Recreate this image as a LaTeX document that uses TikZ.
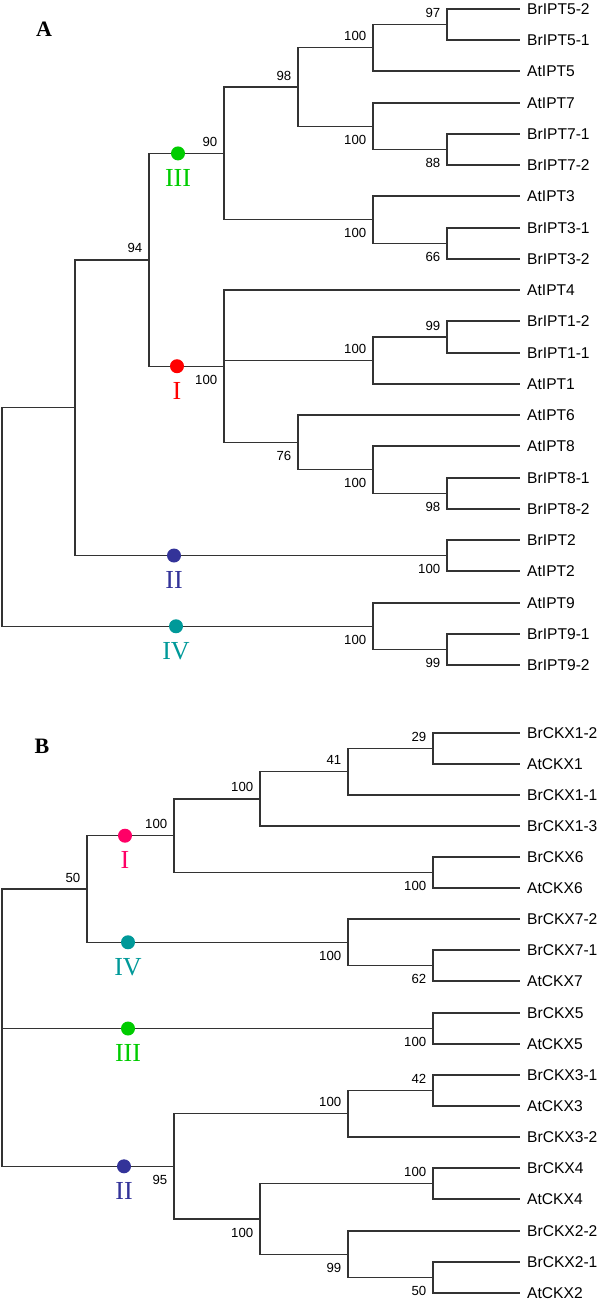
\documentclass[tikz,border=0pt]{standalone}
\usepackage{fontspec}
\setmainfont{Liberation Serif}
\setsansfont{Liberation Sans}
\usepackage{tikz}
\usetikzlibrary{positioning}
\definecolor{cIred}{HTML}{FF0000}
\definecolor{cIpink}{HTML}{FF0066}
\definecolor{cII}{HTML}{333399}
\definecolor{cIII}{HTML}{00CC00}
\definecolor{cIV}{HTML}{009999}

\begin{document}
\begin{tikzpicture}[
    x=0.5pt, y=-0.5pt,
    br/.style={draw=black!80, line width=0.7pt},
    leaf/.style={anchor=west, inner xsep=3.4pt, inner ysep=0pt,
                 font=\sffamily\fontsize{7.8}{9}\selectfont},
    bs/.style={inner sep=0pt, font=\sffamily\fontsize{6.6}{8}\selectfont},
    bsa/.style={bs, anchor=south east, xshift=-3.2pt, yshift=3.2pt},
    bsb/.style={bs, anchor=north east, xshift=-3.2pt, yshift=-4.25pt},
    dot/.style={circle, inner sep=0pt, minimum size=7pt},
    clab/.style={inner sep=0pt, font=\fontsize{13}{13}\selectfont},
    panel/.style={inner sep=0pt, font=\bfseries\fontsize{11}{11}\selectfont}
  ]
  \useasboundingbox (0,0) rectangle (600,1302);

  %% Panel A
  \node[panel] (pA) at (44,29) {A};

  \node[leaf] (a1)  at (520,9)   {BrIPT5-2};
  \node[leaf] (a2)  at (520,40)  {BrIPT5-1};
  \node[leaf] (a3)  at (520,71)  {AtIPT5};
  \node[leaf] (a4)  at (520,103) {AtIPT7};
  \node[leaf] (a5)  at (520,134) {BrIPT7-1};
  \node[leaf] (a6)  at (520,165) {BrIPT7-2};
  \node[leaf] (a7)  at (520,196) {AtIPT3};
  \node[leaf] (a8)  at (520,228) {BrIPT3-1};
  \node[leaf] (a9)  at (520,259) {BrIPT3-2};
  \node[leaf] (a10) at (520,290) {AtIPT4};
  \node[leaf] (a11) at (520,321) {BrIPT1-2};
  \node[leaf] (a12) at (520,353) {BrIPT1-1};
  \node[leaf] (a13) at (520,384) {AtIPT1};
  \node[leaf] (a14) at (520,415) {AtIPT6};
  \node[leaf] (a15) at (520,446) {AtIPT8};
  \node[leaf] (a16) at (520,478) {BrIPT8-1};
  \node[leaf] (a17) at (520,509) {BrIPT8-2};
  \node[leaf] (a18) at (520,540) {BrIPT2};
  \node[leaf] (a19) at (520,571) {AtIPT2};
  \node[leaf] (a20) at (520,603) {AtIPT9};
  \node[leaf] (a21) at (520,634) {BrIPT9-1};
  \node[leaf] (a22) at (520,665) {BrIPT9-2};

  \coordinate (n97)   at (447,24.5);
  \coordinate (n100a) at (373,47.75);
  \coordinate (n88)   at (447,149.5);
  \coordinate (n100b) at (373,126.25);
  \coordinate (n98)   at (298,87);
  \coordinate (n66)   at (447,243.5);
  \coordinate (n100c) at (373,219.75);
  \coordinate (n90)   at (224,153.4);
  \coordinate (n99)   at (447,337);
  \coordinate (n100d) at (373,360.5);
  \coordinate (n98b)  at (447,493.5);
  \coordinate (n100e) at (373,469.75);
  \coordinate (n76)   at (298,442.4);
  \coordinate (nI)    at (224,366.2);
  \coordinate (n94)   at (149,259.8);
  \coordinate (n100f) at (447,555.5);
  \coordinate (nA2)   at (75,407.6);
  \coordinate (n99b)  at (447,649.5);
  \coordinate (n100g) at (373,626.25);
  \coordinate (rootA) at (2,516.9);

  \draw[br] (rootA) |- (nA2)   (rootA) |- (n100g);
  \draw[br] (nA2) |- (n94)     (nA2) |- (n100f);
  \draw[br] (n94) |- (n90)     (n94) |- (nI);
  \draw[br] (n90) |- (n98)     (n90) |- (n100c);
  \draw[br] (n98) |- (n100a)   (n98) |- (n100b);
  \draw[br] (n100a) |- (n97)   (n100a) |- (a3.west);
  \draw[br] (n97) |- (a1.west) (n97) |- (a2.west);
  \draw[br] (n100b) |- (a4.west) (n100b) |- (n88);
  \draw[br] (n88) |- (a5.west) (n88) |- (a6.west);
  \draw[br] (n100c) |- (a7.west) (n100c) |- (n66);
  \draw[br] (n66) |- (a8.west) (n66) |- (a9.west);
  \draw[br] (nI) |- (a10.west) (nI) |- (n100d) (nI) |- (n76);
  \draw[br] (n100d) |- (n99)   (n100d) |- (a13.west);
  \draw[br] (n99) |- (a11.west) (n99) |- (a12.west);
  \draw[br] (n76) |- (a14.west) (n76) |- (n100e);
  \draw[br] (n100e) |- (a15.west) (n100e) |- (n98b);
  \draw[br] (n98b) |- (a16.west) (n98b) |- (a17.west);
  \draw[br] (n100f) |- (a18.west) (n100f) |- (a19.west);
  \draw[br] (n100g) |- (a20.west) (n100g) |- (n99b);
  \draw[br] (n99b) |- (a21.west) (n99b) |- (a22.west);

  \node[bsa] (s97)   at (n97)   {97};
  \node[bsa] (s100a) at (n100a) {100};
  \node[bsb] (s88)   at (n88)   {88};
  \node[bsb] (s100b) at (n100b) {100};
  \node[bsa] (s98)   at (n98)   {98};
  \node[bsb] (s66)   at (n66)   {66};
  \node[bsb] (s100c) at (n100c) {100};
  \node[bsa] (s90)   at (n90)   {90};
  \node[bsa] (s99)   at (n99)   {99};
  \node[bsa] (s100d) at (n100d) {100};
  \node[bsb] (s98b)  at (n98b)  {98};
  \node[bsb] (s100e) at (n100e) {100};
  \node[bsb] (s76)   at (n76)   {76};
  \node[bsb] (sI)    at (nI)    {100};
  \node[bsa] (s94)   at (n94)   {94};
  \node[bsb] (s100f) at (n100f) {100};
  \node[bsb] (s99b)  at (n99b)  {99};
  \node[bsb] (s100g) at (n100g) {100};

  \node[dot, fill=cIII]  (dAIII) at (178,153.4) {};
  \node[dot, fill=cIred] (dAI)   at (177,366.2) {};
  \node[dot, fill=cII]   (dAII)  at (174,555.5) {};
  \node[dot, fill=cIV]   (dAIV)  at (176,626.25) {};
  \node[clab, text=cIII,  below=4pt of dAIII] (lAIII) {III};
  \node[clab, text=cIred, below=4pt of dAI]   (lAI)   {I};
  \node[clab, text=cII,   below=4pt of dAII]  (lAII)  {II};
  \node[clab, text=cIV,   below=4pt of dAIV]  (lAIV)  {IV};

  %% Panel B
  \node[panel] (pB) at (42,746) {B};

  \node[leaf] (b1)  at (520,733)  {BrCKX1-2};
  \node[leaf] (b2)  at (520,764)  {AtCKX1};
  \node[leaf] (b3)  at (520,795)  {BrCKX1-1};
  \node[leaf] (b4)  at (520,826)  {BrCKX1-3};
  \node[leaf] (b5)  at (520,857)  {BrCKX6};
  \node[leaf] (b6)  at (520,888)  {AtCKX6};
  \node[leaf] (b7)  at (520,919)  {BrCKX7-2};
  \node[leaf] (b8)  at (520,950)  {BrCKX7-1};
  \node[leaf] (b9)  at (520,981)  {AtCKX7};
  \node[leaf] (b10) at (520,1013) {BrCKX5};
  \node[leaf] (b11) at (520,1044) {AtCKX5};
  \node[leaf] (b12) at (520,1075) {BrCKX3-1};
  \node[leaf] (b13) at (520,1106) {AtCKX3};
  \node[leaf] (b14) at (520,1137) {BrCKX3-2};
  \node[leaf] (b15) at (520,1168) {BrCKX4};
  \node[leaf] (b16) at (520,1199) {AtCKX4};
  \node[leaf] (b17) at (520,1231) {BrCKX2-2};
  \node[leaf] (b18) at (520,1262) {BrCKX2-1};
  \node[leaf] (b19) at (520,1293) {AtCKX2};

  \coordinate (m29)   at (433,748.5);
  \coordinate (m41)   at (348,771.75);
  \coordinate (m100a) at (260,798.9);
  \coordinate (m100b) at (433,872.5);
  \coordinate (mI)    at (174,835.7);
  \coordinate (m62)   at (433,965.5);
  \coordinate (mIV)   at (348,942.25);
  \coordinate (m50)   at (87,889);
  \coordinate (mIII)  at (433,1028.5);
  \coordinate (m42)   at (433,1090.5);
  \coordinate (m100c) at (348,1113.75);
  \coordinate (m100d) at (433,1183.5);
  \coordinate (m50b)  at (433,1277.5);
  \coordinate (m99)   at (348,1254.25);
  \coordinate (m100e) at (260,1218.9);
  \coordinate (mII)   at (174,1166.3);
  \coordinate (rootB) at (2,1027.7);

  \draw[br] (rootB) |- (m50) (rootB) |- (mIII) (rootB) |- (mII);
  \draw[br] (m50) |- (mI)      (m50) |- (mIV);
  \draw[br] (mI) |- (m100a)    (mI) |- (m100b);
  \draw[br] (m100a) |- (m41)   (m100a) |- (b4.west);
  \draw[br] (m41) |- (m29)     (m41) |- (b3.west);
  \draw[br] (m29) |- (b1.west) (m29) |- (b2.west);
  \draw[br] (m100b) |- (b5.west) (m100b) |- (b6.west);
  \draw[br] (mIV) |- (b7.west) (mIV) |- (m62);
  \draw[br] (m62) |- (b8.west) (m62) |- (b9.west);
  \draw[br] (mIII) |- (b10.west) (mIII) |- (b11.west);
  \draw[br] (mII) |- (m100c)   (mII) |- (m100e);
  \draw[br] (m100c) |- (m42)   (m100c) |- (b14.west);
  \draw[br] (m42) |- (b12.west) (m42) |- (b13.west);
  \draw[br] (m100e) |- (m100d) (m100e) |- (m99);
  \draw[br] (m100d) |- (b15.west) (m100d) |- (b16.west);
  \draw[br] (m99) |- (b17.west) (m99) |- (m50b);
  \draw[br] (m50b) |- (b18.west) (m50b) |- (b19.west);

  \node[bsa] (t29)   at (m29)   {29};
  \node[bsa] (t41)   at (m41)   {41};
  \node[bsa] (t100a) at (m100a) {100};
  \node[bsb] (t100b) at (m100b) {100};
  \node[bsa] (tI)    at (mI)    {100};
  \node[bsb] (t62)   at (m62)   {62};
  \node[bsb] (tIV)   at (mIV)   {100};
  \node[bsa] (t50)   at (m50)   {50};
  \node[bsb] (tIII)  at (mIII)  {100};
  \node[bsa] (t42)   at (m42)   {42};
  \node[bsa] (t100c) at (m100c) {100};
  \node[bsa] (t100d) at (m100d) {100};
  \node[bsb] (t50b)  at (m50b)  {50};
  \node[bsb] (t99)   at (m99)   {99};
  \node[bsb] (t100e) at (m100e) {100};
  \node[bsb] (tII)   at (mII)   {95};

  \node[dot, fill=cIpink] (dBI)   at (125,835.7) {};
  \node[dot, fill=cIV]    (dBIV)  at (128,942.25) {};
  \node[dot, fill=cIII]   (dBIII) at (128,1028.5) {};
  \node[dot, fill=cII]    (dBII)  at (124,1166.3) {};
  \node[clab, text=cIpink, below=4pt of dBI]   (lBI)   {I};
  \node[clab, text=cIV,    below=4pt of dBIV]  (lBIV)  {IV};
  \node[clab, text=cIII,   below=4pt of dBIII] (lBIII) {III};
  \node[clab, text=cII,    below=4pt of dBII]  (lBII)  {II};
\end{tikzpicture}
\end{document}
